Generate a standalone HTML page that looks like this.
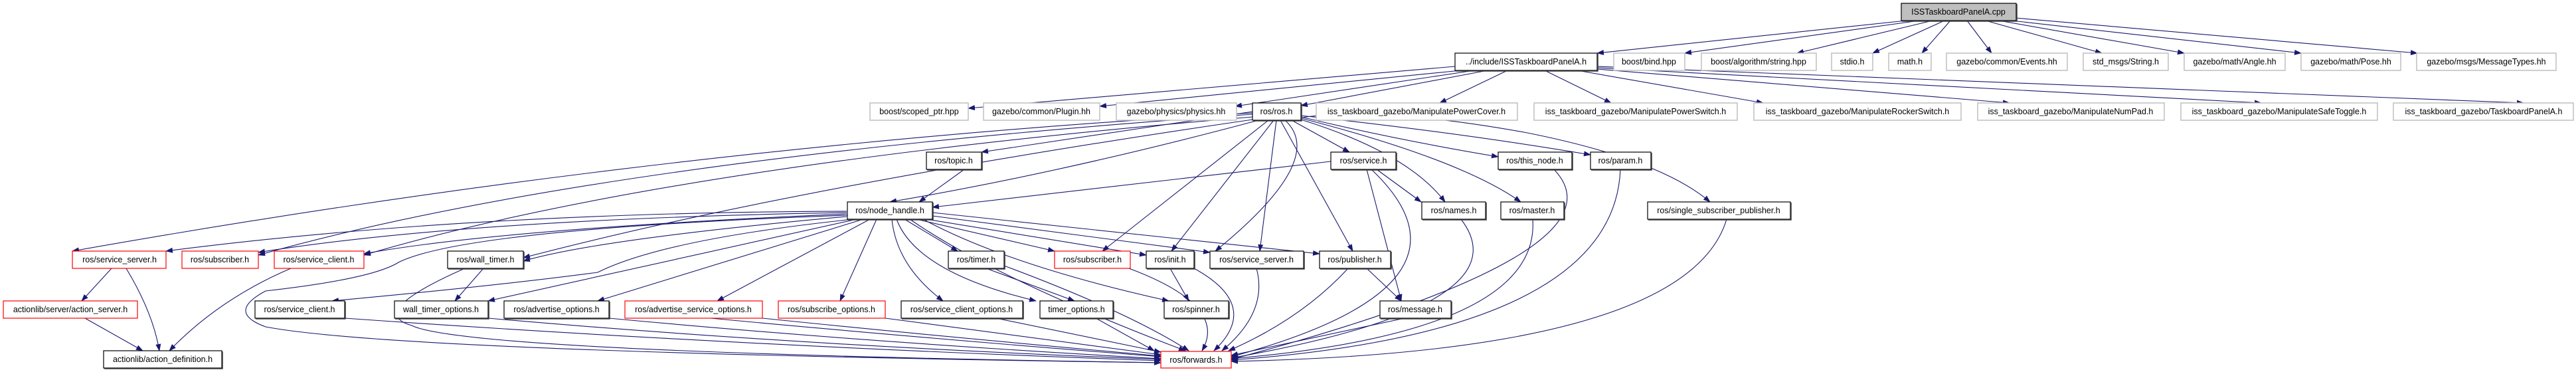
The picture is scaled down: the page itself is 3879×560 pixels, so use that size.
<!DOCTYPE html>
<html><head><meta charset="utf-8"><style>
html,body{margin:0;padding:0;background:#fff;}
svg{display:block;}
text{font-family:"Liberation Sans",sans-serif;font-size:12.5px;fill:#000;}
.g{fill:#fff;stroke:#bfbfbf;stroke-width:1.5;}
.b{fill:#fff;stroke:#000;stroke-width:1.2;}
.r{fill:#fff;stroke:#ff0000;stroke-width:1.2;}
.s{fill:none;stroke:#404040;stroke-width:1.6;}
.e{fill:none;stroke:#191970;stroke-width:1.1;marker-end:url(#a);}
</style></head><body>
<svg width="3879" height="560" viewBox="0 0 3879 560" xmlns="http://www.w3.org/2000/svg">
<defs><marker id="a" markerWidth="11" markerHeight="8" refX="10" refY="4" orient="auto" markerUnits="userSpaceOnUse"><path d="M0,0 L11,4 L0,8 z" fill="#191970"/></marker></defs>

<g>
<path class="e" d="M2880 30 L2405 80"/>
<path class="e" d="M2890 31 L2537 80"/>
<path class="e" d="M2910 31 L2706 80"/>
<path class="e" d="M2928 31 L2820 80"/>
<path class="e" d="M2937 31 L2894 80"/>
<path class="e" d="M2962 31 L2999 80"/>
<path class="e" d="M2990 31 L3165 80"/>
<path class="e" d="M3010 31 L3289 80"/>
<path class="e" d="M3020 30 L3465 80"/>
<path class="e" d="M3035 27 L3640 80"/>
<path class="e" d="M2191 100 L1458 163"/>
<path class="e" d="M2200 106 L1656 160"/>
<path class="e" d="M2220 106 L1860 160"/>
<path class="e" d="M2240 106 L1959 159"/>
<path class="e" d="M2270 106 L2168 155"/>
<path class="e" d="M2326 106 L2426 155"/>
<path class="e" d="M2375 106 L2655 155"/>
<path class="e" d="M2405 104 L3026 155"/>
<path class="e" d="M2405 102 L3405 155"/>
<path class="e" d="M2405 100 L3800 155"/>
<path class="e" d="M1886 168 Q1600 210 1478 229"/>
<path class="e" d="M1945 181 L2032 229"/>
<path class="e" d="M1959 176 Q2100 210 2256 236"/>
<path class="e" d="M1959 174 Q2200 200 2395 233"/>
<path class="e" d="M1895 181 Q1600 260 1340 304"/>
<path class="e" d="M1959 180 Q2120 230 2176 304"/>
<path class="e" d="M1959 178 Q2200 240 2290 304"/>
<path class="e" d="M1959 177 Q2080 160 2300 200 Q2500 240 2575 304"/>
<path class="e" d="M1886 170 Q1000 220 109 378"/>
<path class="e" d="M1886 172 Q900 240 389 384"/>
<path class="e" d="M1886 176 Q1000 250 548 384"/>
<path class="e" d="M1886 180 Q1200 280 788 388"/>
<path class="e" d="M1910 181 L1660 378"/>
<path class="e" d="M1918 181 L1764 378"/>
<path class="e" d="M1922 181 L1897 378"/>
<path class="e" d="M1928 181 L2037 378"/>
<path class="e" d="M1935 181 Q2000 240 1830 378"/>
<path class="e" d="M1452 255 L1384 304"/>
<path class="e" d="M2004 243 L1404 312"/>
<path class="e" d="M2073 255 L2140 304"/>
<path class="e" d="M2058 255 L2110 453"/>
<path class="e" d="M2065 255 Q2250 430 1854 537"/>
<path class="e" d="M1275 318 Q700 320 250 378"/>
<path class="e" d="M1275 320 Q700 330 389 380"/>
<path class="e" d="M1275 322 Q750 345 548 382"/>
<path class="e" d="M1275 326 Q900 360 788 393"/>
<path class="e" d="M1276 324 Q700 345 600 395 Q560 420 400 438 Q340 470 400 492 Q600 530 1748 546"/>
<path class="e" d="M1285 330 Q1000 360 900 410 Q750 430 500 453"/>
<path class="e" d="M1290 330 L735 453"/>
<path class="e" d="M1300 330 L900 453"/>
<path class="e" d="M1310 330 L1080 453"/>
<path class="e" d="M1320 330 L1265 453"/>
<path class="e" d="M1343 330 Q1350 400 1420 453"/>
<path class="e" d="M1350 330 Q1380 410 1560 453"/>
<path class="e" d="M1362 330 L1442 378"/>
<path class="e" d="M1380 330 L1588 378"/>
<path class="e" d="M1395 330 L1726 384"/>
<path class="e" d="M1404 325 L1822 380"/>
<path class="e" d="M1404 320 L1987 382"/>
<path class="e" d="M1390 330 Q1520 400 1760 453"/>
<path class="e" d="M1370 330 Q1500 420 1785 528"/>
<path class="e" d="M1070 479 Q1400 510 1748 537"/>
<path class="e" d="M735 479 Q1200 520 1748 541"/>
<path class="e" d="M917 479 Q1300 515 1748 540"/>
<path class="e" d="M519 479 Q1100 520 1748 543"/>
<path class="e" d="M1148 479 Q1400 505 1748 536"/>
<path class="e" d="M1333 479 L1748 534"/>
<path class="e" d="M1500 479 L1748 530"/>
<path class="e" d="M1650 479 L1738 528"/>
<path class="e" d="M700 404 Q550 470 620 490 Q700 530 1748 546"/>
<path class="e" d="M728 404 L685 453"/>
<path class="e" d="M1485 404 L1618 453"/>
<path class="e" d="M1512 400 Q1700 470 1790 528"/>
<path class="e" d="M1700 404 Q1850 460 1810 528"/>
<path class="e" d="M1762 404 L1790 453"/>
<path class="e" d="M1798 404 Q1900 460 1828 528"/>
<path class="e" d="M1892 404 Q1910 470 1840 528"/>
<path class="e" d="M2030 404 Q1960 480 1850 528"/>
<path class="e" d="M2058 404 L2110 453"/>
<path class="e" d="M2115 479 L1854 535"/>
<path class="e" d="M2200 330 Q2300 460 1854 539"/>
<path class="e" d="M2308 330 Q2320 500 1854 540"/>
<path class="e" d="M2340 255 Q2460 380 1854 541"/>
<path class="e" d="M2440 255 Q2430 500 1854 542"/>
<path class="e" d="M2600 330 Q2540 530 1854 544"/>
<path class="e" d="M168 404 L123 453"/>
<path class="e" d="M190 404 Q230 470 240 528"/>
<path class="e" d="M128 479 L215 528"/>
<path class="e" d="M438 404 Q330 450 255 528"/>
</g>

<g>
<rect x="2863" y="5" width="173" height="26" fill="#bfbfbf" stroke="#000" stroke-width="1.2"/><path class="s" d="M2864 32 H3037 V6"/><text x="2949" y="22" text-anchor="middle">ISSTaskboardPanelA.cpp</text>

<rect class="b" x="2191" y="80" width="214" height="26"/><path class="s" d="M2192 107 H2406 V81"/><text x="2298" y="97" text-anchor="middle">../include/ISSTaskboardPanelA.h</text>
<rect class="g" x="2430" y="80" width="107" height="26"/><text x="2483" y="97" text-anchor="middle">boost/bind.hpp</text>
<rect class="g" x="2562" y="80" width="173" height="26"/><text x="2648" y="97" text-anchor="middle">boost/algorithm/string.hpp</text>
<rect class="g" x="2758" y="80" width="62" height="26"/><text x="2789" y="97" text-anchor="middle">stdio.h</text>
<rect class="g" x="2844" y="80" width="64" height="26"/><text x="2876" y="97" text-anchor="middle">math.h</text>
<rect class="g" x="2931" y="80" width="182" height="26"/><text x="3022" y="97" text-anchor="middle">gazebo/common/Events.hh</text>
<rect class="g" x="3137" y="80" width="128" height="26"/><text x="3201" y="97" text-anchor="middle">std_msgs/String.h</text>
<rect class="g" x="3289" y="80" width="152" height="26"/><text x="3365" y="97" text-anchor="middle">gazebo/math/Angle.hh</text>
<rect class="g" x="3465" y="80" width="150" height="26"/><text x="3540" y="97" text-anchor="middle">gazebo/math/Pose.hh</text>
<rect class="g" x="3639" y="80" width="210" height="26"/><text x="3744" y="97" text-anchor="middle">gazebo/msgs/MessageTypes.hh</text>

<rect class="g" x="1310" y="155" width="148" height="26"/><text x="1384" y="172" text-anchor="middle">boost/scoped_ptr.hpp</text>
<rect class="g" x="1481" y="155" width="175" height="26"/><text x="1568" y="172" text-anchor="middle">gazebo/common/Plugin.hh</text>
<rect class="g" x="1681" y="155" width="181" height="26"/><text x="1771" y="172" text-anchor="middle">gazebo/physics/physics.hh</text>
<rect class="b" x="1886" y="155" width="73" height="26"/><path class="s" d="M1887 182 H1960 V156"/><text x="1922" y="172" text-anchor="middle">ros/ros.h</text>
<rect class="g" x="1982" y="155" width="303" height="26"/><text x="2133" y="172" text-anchor="middle">iss_taskboard_gazebo/ManipulatePowerCover.h</text>
<rect class="g" x="2310" y="155" width="306" height="26"/><text x="2463" y="172" text-anchor="middle">iss_taskboard_gazebo/ManipulatePowerSwitch.h</text>
<rect class="g" x="2641" y="155" width="312" height="26"/><text x="2797" y="172" text-anchor="middle">iss_taskboard_gazebo/ManipulateRockerSwitch.h</text>
<rect class="g" x="2978" y="155" width="281" height="26"/><text x="3118" y="172" text-anchor="middle">iss_taskboard_gazebo/ManipulateNumPad.h</text>
<rect class="g" x="3284" y="155" width="296" height="26"/><text x="3432" y="172" text-anchor="middle">iss_taskboard_gazebo/ManipulateSafeToggle.h</text>
<rect class="g" x="3604" y="155" width="271" height="26"/><text x="3740" y="172" text-anchor="middle">iss_taskboard_gazebo/TaskboardPanelA.h</text>

<rect class="b" x="1395" y="229" width="83" height="26"/><path class="s" d="M1396 256 H1479 V230"/><text x="1436" y="246" text-anchor="middle">ros/topic.h</text>
<rect class="b" x="2004" y="229" width="98" height="26"/><path class="s" d="M2005 256 H2103 V230"/><text x="2053" y="246" text-anchor="middle">ros/service.h</text>
<rect class="b" x="2256" y="229" width="111" height="26"/><path class="s" d="M2257 256 H2368 V230"/><text x="2311" y="246" text-anchor="middle">ros/this_node.h</text>
<rect class="b" x="2395" y="229" width="91" height="26"/><path class="s" d="M2396 256 H2487 V230"/><text x="2440" y="246" text-anchor="middle">ros/param.h</text>

<rect class="b" x="1276" y="304" width="128" height="26"/><path class="s" d="M1277 331 H1405 V305"/><text x="1340" y="321" text-anchor="middle">ros/node_handle.h</text>
<rect class="b" x="2141" y="304" width="96" height="26"/><path class="s" d="M2142 331 H2238 V305"/><text x="2189" y="321" text-anchor="middle">ros/names.h</text>
<rect class="b" x="2260" y="304" width="95" height="26"/><path class="s" d="M2261 331 H2356 V305"/><text x="2307" y="321" text-anchor="middle">ros/master.h</text>
<rect class="b" x="2481" y="304" width="215" height="26"/><path class="s" d="M2482 331 H2697 V305"/><text x="2588" y="321" text-anchor="middle">ros/single_subscriber_publisher.h</text>

<rect class="r" x="109" y="378" width="141" height="26"/><text x="180" y="395" text-anchor="middle">ros/service_server.h</text>
<rect class="r" x="274" y="378" width="115" height="26"/><text x="331" y="395" text-anchor="middle">ros/subscriber.h</text>
<rect class="r" x="413" y="378" width="135" height="26"/><text x="480" y="395" text-anchor="middle">ros/service_client.h</text>
<rect class="b" x="674" y="378" width="114" height="26"/><path class="s" d="M675 405 H789 V379"/><text x="731" y="395" text-anchor="middle">ros/wall_timer.h</text>
<rect class="b" x="1428" y="378" width="84" height="26"/><path class="s" d="M1429 405 H1513 V379"/><text x="1470" y="395" text-anchor="middle">ros/timer.h</text>
<rect class="r" x="1588" y="378" width="114" height="26"/><text x="1645" y="395" text-anchor="middle">ros/subscriber.h</text>
<rect class="b" x="1726" y="378" width="72" height="26"/><path class="s" d="M1727 405 H1799 V379"/><text x="1762" y="395" text-anchor="middle">ros/init.h</text>
<rect class="b" x="1822" y="378" width="141" height="26"/><path class="s" d="M1823 405 H1964 V379"/><text x="1892" y="395" text-anchor="middle">ros/service_server.h</text>
<rect class="b" x="1987" y="378" width="107" height="26"/><path class="s" d="M1988 405 H2095 V379"/><text x="2040" y="395" text-anchor="middle">ros/publisher.h</text>

<rect class="r" x="5" y="453" width="202" height="26"/><text x="106" y="470" text-anchor="middle">actionlib/server/action_server.h</text>
<rect class="b" x="384" y="453" width="135" height="26"/><path class="s" d="M385 480 H520 V454"/><text x="451" y="470" text-anchor="middle">ros/service_client.h</text>
<rect class="b" x="594" y="453" width="141" height="26"/><path class="s" d="M595 480 H736 V454"/><text x="664" y="470" text-anchor="middle">wall_timer_options.h</text>
<rect class="b" x="759" y="453" width="158" height="26"/><path class="s" d="M760 480 H918 V454"/><text x="838" y="470" text-anchor="middle">ros/advertise_options.h</text>
<rect class="r" x="941" y="453" width="207" height="26"/><text x="1044" y="470" text-anchor="middle">ros/advertise_service_options.h</text>
<rect class="r" x="1172" y="453" width="161" height="26"/><text x="1252" y="470" text-anchor="middle">ros/subscribe_options.h</text>
<rect class="b" x="1357" y="453" width="183" height="26"/><path class="s" d="M1358 480 H1541 V454"/><text x="1448" y="470" text-anchor="middle">ros/service_client_options.h</text>
<rect class="b" x="1566" y="453" width="110" height="26"/><path class="s" d="M1567 480 H1677 V454"/><text x="1621" y="470" text-anchor="middle">timer_options.h</text>
<rect class="b" x="1753" y="453" width="97" height="26"/><path class="s" d="M1754 480 H1851 V454"/><text x="1801" y="470" text-anchor="middle">ros/spinner.h</text>
<rect class="b" x="2078" y="453" width="107" height="26"/><path class="s" d="M2079 480 H2186 V454"/><text x="2131" y="470" text-anchor="middle">ros/message.h</text>

<rect class="b" x="156" y="528" width="178" height="26"/><path class="s" d="M157 555 H335 V529"/><text x="245" y="545" text-anchor="middle">actionlib/action_definition.h</text>
<rect class="r" x="1748" y="529" width="106" height="25"/><text x="1801" y="546" text-anchor="middle">ros/forwards.h</text>
</g>
</svg>
</body></html>
